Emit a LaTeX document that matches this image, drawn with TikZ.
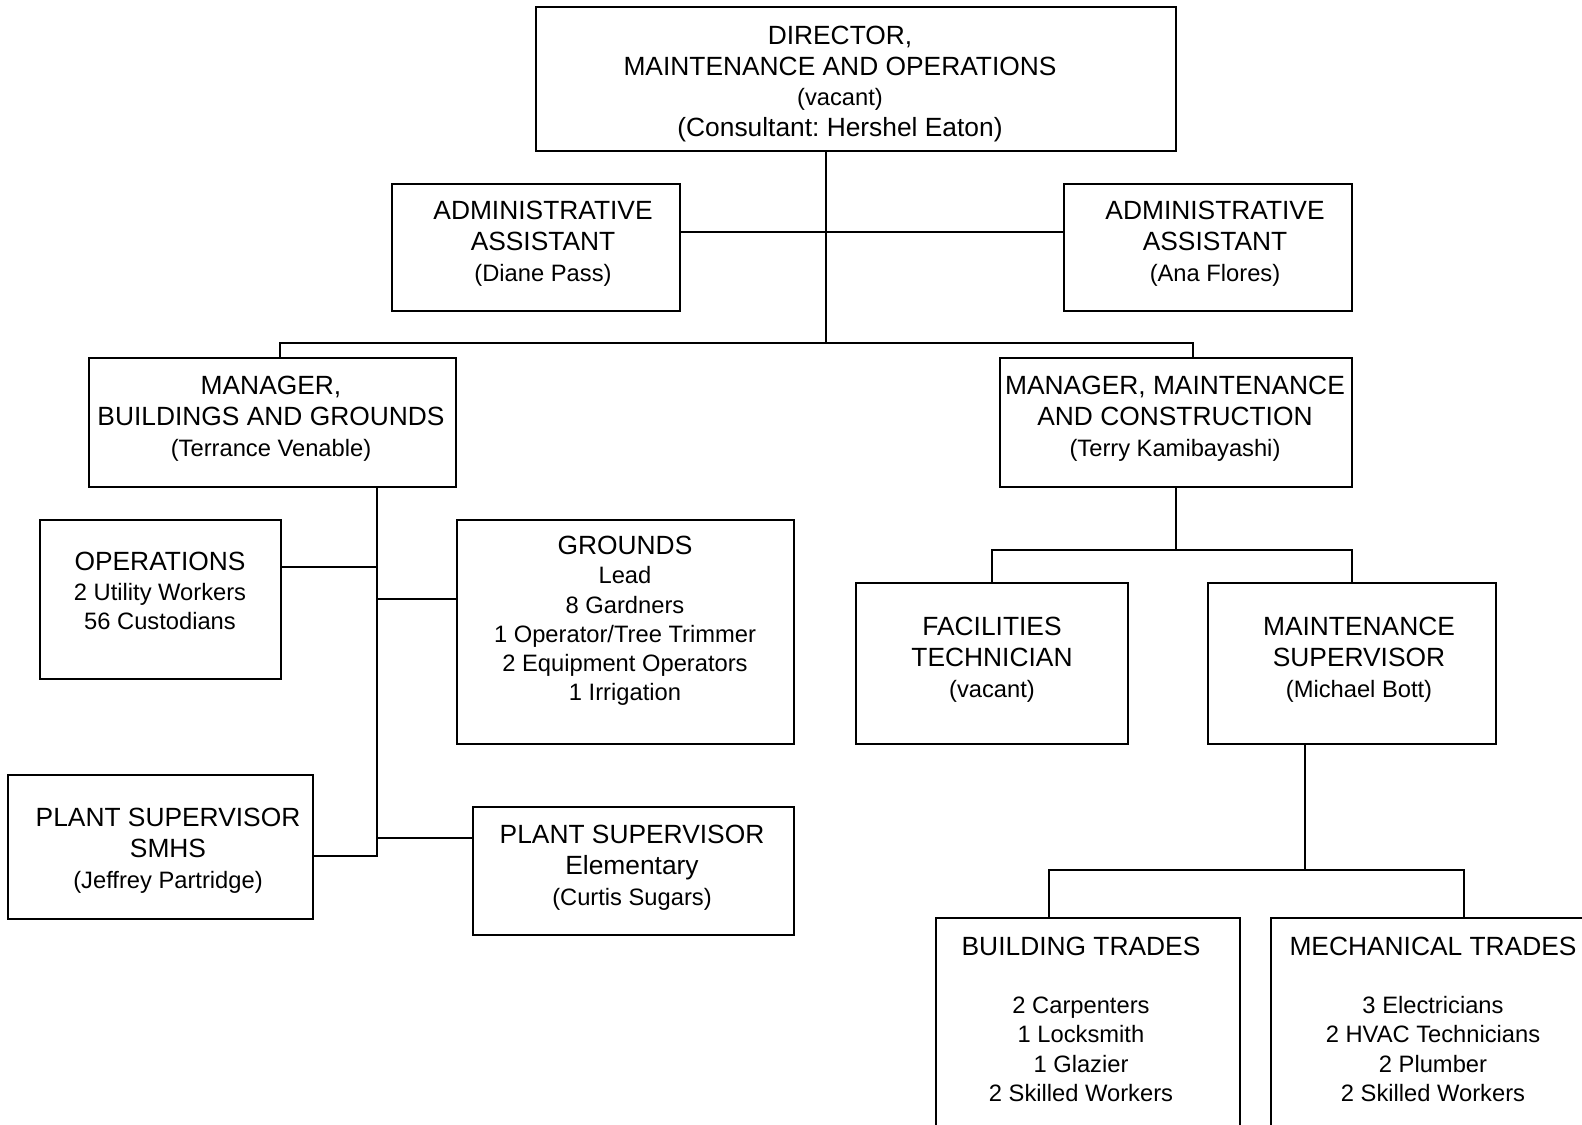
\documentclass[tikz,border=0pt]{standalone}
\usepackage{fontspec}
\setmainfont{Liberation Sans}
\usetikzlibrary{fit}
\frenchspacing

\newcommand{\boxhead}{\fontsize{15}{17.6}\selectfont}
\newcommand{\boxsub}{\fontsize{13.5}{16.6}\selectfont}

\begin{document}
\begin{tikzpicture}[%
        x = 0.02cm,
        y = -0.02cm,
        line width = 1.1pt,
        unit/.style = {draw, inner sep = 0pt, fit = {#1}},
        txt/.style = {align = center, inner sep = 0pt, font = \boxhead},
        list/.style = {align = center, inner sep = 0pt, font = \boxsub}
    ]
        \useasboundingbox (0, 0) rectangle (1582, 1125);
        \clip (0, 0) rectangle (1582, 1125);

        % Boxes of the chart.
        \node[unit = {(536, 7) (1176, 151)}] (dir) {};
        \node[unit = {(392, 184) (680, 311)}] (asstL) {};
        \node[unit = {(1064, 184) (1352, 311)}] (asstR) {};
        \node[unit = {(89, 358) (456, 487)}] (mgrBG) {};
        \node[unit = {(1000, 358) (1352, 487)}] (mgrMC) {};
        \node[unit = {(40, 520) (281, 679)}] (ops) {};
        \node[unit = {(457, 520) (794, 744)}] (grnd) {};
        \node[unit = {(8, 775) (313, 919)}] (psSMHS) {};
        \node[unit = {(473, 807) (794, 935)}] (psElem) {};
        \node[unit = {(856, 583) (1128, 744)}] (facTech) {};
        \node[unit = {(1208, 583) (1496, 744)}] (mntSup) {};
        \node[unit = {(936, 918) (1240, 1200)}] (bldTr) {};
        \node[unit = {(1271, 918) (1610, 1200)}] (mchTr) {};

        % Texts in the boxes.
        \node[txt] (dirT) at (840, 84)
            {DIRECTOR,\\ MAINTENANCE AND OPERATIONS\\ {\boxsub (vacant)}\\ (Consultant: Hershel Eaton)};
        \node[txt] (asstLT) at (543, 244)
            {ADMINISTRATIVE\\ ASSISTANT\\ {\boxsub (Diane Pass)}};
        \node[txt] (asstRT) at (1215, 244)
            {ADMINISTRATIVE\\ ASSISTANT\\ {\boxsub (Ana Flores)}};
        \node[txt] (mgrBGT) at (271, 419)
            {MANAGER,\\ BUILDINGS AND GROUNDS\\ {\boxsub (Terrance Venable)}};
        \node[txt] (mgrMCT) at (1175, 419)
            {MANAGER, MAINTENANCE\\ AND CONSTRUCTION\\ {\boxsub (Terry Kamibayashi)}};
        \node[list] (opsT) at (160, 591)
            {{\boxhead OPERATIONS}\\ 2 Utility Workers\\ 56 Custodians};
        \node[list] (grndT) at (625, 621)
            {{\boxhead GROUNDS}\\ Lead\\ 8 Gardners\\ 1 Operator/Tree Trimmer\\
             2 Equipment Operators\\ 1 Irrigation};
        \node[txt] (psSMHST) at (168, 851)
            {PLANT SUPERVISOR\\ SMHS\\ {\boxsub (Jeffrey Partridge)}};
        \node[txt] (psElemT) at (632, 868)
            {PLANT SUPERVISOR\\ Elementary\\ {\boxsub (Curtis Sugars)}};
        \node[txt] (facTechT) at (992, 660)
            {FACILITIES\\ TECHNICIAN\\ {\boxsub (vacant)}};
        \node[txt] (mntSupT) at (1359, 660)
            {MAINTENANCE\\ SUPERVISOR\\ {\boxsub (Michael Bott)}};
        \node[list, anchor = north] (bldTrT) at (1081, 936)
            {{\boxhead BUILDING TRADES}\\[16.6pt] 2 Carpenters\\ 1 Locksmith\\
             1 Glazier\\ 2 Skilled Workers};
        \node[list, anchor = north] (mchTrT) at (1433, 936)
            {{\boxhead MECHANICAL TRADES}\\[16.6pt] 3 Electricians\\ 2 HVAC Technicians\\
             2 Plumber\\ 2 Skilled Workers};

        % Junction points.
        \coordinate (Dir_Bus) at (826, 343);
        \coordinate (Asst_Line) at (826, 232);
        \coordinate (BG_Drop) at (280, 343);
        \coordinate (MC_Drop) at (1193, 343);
        \coordinate (BG_Trunk) at (377, 856);
        \coordinate (Ops_Tap) at (377, 567);
        \coordinate (Grnd_Tap) at (377, 599);
        \coordinate (Elem_Tap) at (377, 838);
        \coordinate (MC_Bus) at (1176, 550);
        \coordinate (MS_Bus) at (1305, 870);
        \coordinate (BT_Drop) at (1049, 870);
        \coordinate (MT_Drop) at (1464, 870);

        % Director down to the managers.
        \draw (Dir_Bus |- dir.south) to (Dir_Bus);
        \draw (asstL.east |- Asst_Line) to (asstR.west |- Asst_Line);
        \draw (BG_Drop |- mgrBG.north) to (BG_Drop) to (MC_Drop) to (MC_Drop |- mgrMC.north);

        % Buildings and grounds branches.
        \draw (BG_Trunk |- mgrBG.south) to (BG_Trunk) to (psSMHS.east |- BG_Trunk);
        \draw (ops.east |- Ops_Tap) to (Ops_Tap);
        \draw (Grnd_Tap) to (grnd.west |- Grnd_Tap);
        \draw (Elem_Tap) to (psElem.west |- Elem_Tap);

        % Maintenance and construction branches.
        \draw (mgrMC.south) to (mgrMC.south |- MC_Bus);
        \draw (facTech.north) to (facTech.north |- MC_Bus) to (mntSup.north |- MC_Bus) to (mntSup.north);
        \draw (MS_Bus |- mntSup.south) to (MS_Bus);
        \draw (BT_Drop |- bldTr.north) to (BT_Drop) to (MT_Drop) to (MT_Drop |- mchTr.north);
    \end{tikzpicture}
\end{document}
